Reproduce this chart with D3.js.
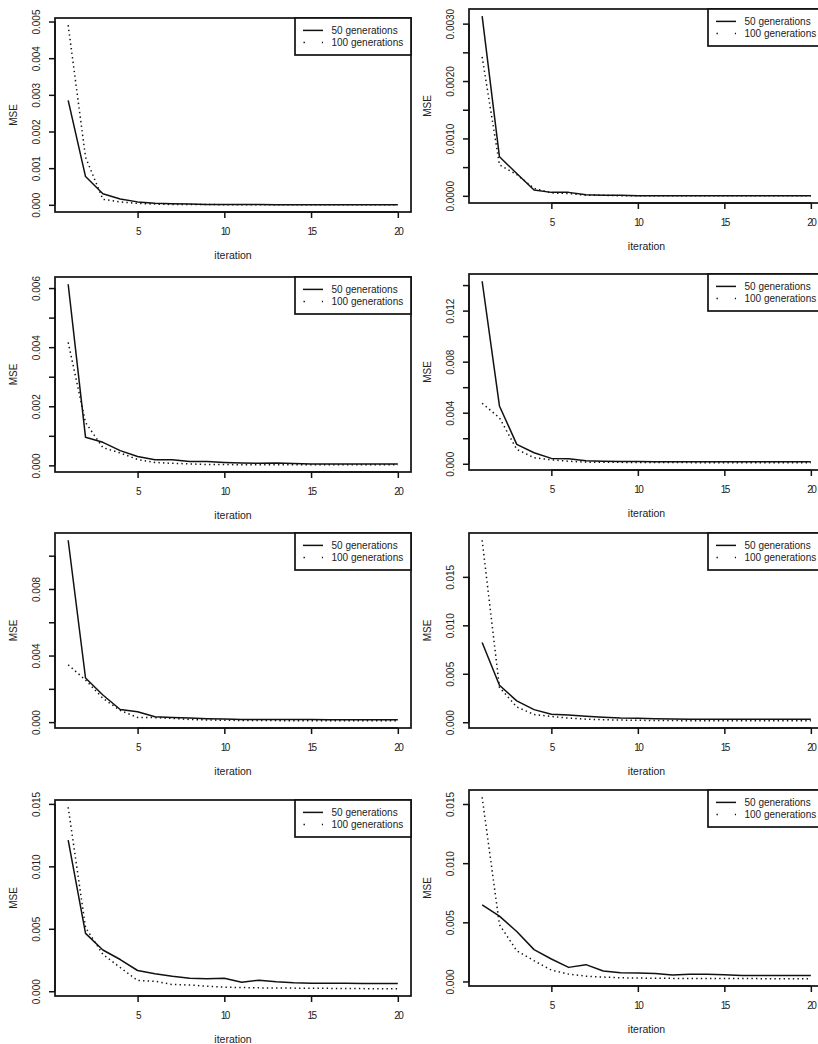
<!DOCTYPE html>
<html>
<head>
<meta charset="utf-8">
<script src="https://cdn.jsdelivr.net/npm/d3@7"></script>
<style>
  html, body { margin: 0; padding: 0; background: #fff; }
  svg { display: block; }
  text { font-family: "Liberation Sans", Arial, Helvetica, sans-serif; fill: #111; }
</style>
</head>
<body>
<svg id="chart" width="818" height="1044"></svg>
<script>
// ---------------- data ----------------
const iterations = [1,2,3,4,5,6,7,8,9,10,11,12,13,14,15,16,17,18,19,20];
const seriesNames = ["50 generations", "100 generations"];
const xTicks = [5, 10, 15, 20];

const p1_gen50  = [0.00285,0.00077,0.00030,0.00016,0.00008,0.00004,0.00003,0.00002,0.00001,0.00001,0.00001,0.00001,0,0,0,0,0,0,0,0];
const p1_gen100 = [0.00490,0.00130,0.00015,0.00008,0.00004,0.00002,0.00001,0.00001,0.00001,0,0,0,0,0,0,0,0,0,0,0];
const p1_yTicks  = [0,0.001,0.002,0.003,0.004,0.005];
const p1_yLabels = ["0.000","0.001","0.002","0.003","0.004","0.005"];

const p2_gen50  = [0.00313,0.00068,0.00039,0.00010,0.00006,0.00006,0.00002,0.00001,0.00001,0,0,0,0,0,0,0,0,0,0,0];
const p2_gen100 = [0.00242,0.00054,0.00037,0.00013,0.00005,0.00004,0.00001,0.00001,0,0,0,0,0,0,0,0,0,0,0,0];
const p2_yTicks  = [0,0.0005,0.001,0.0015,0.002,0.0025,0.003];
const p2_yLabels = ["0.0000","","0.0010","","0.0020","","0.0030"];

const p3_gen50  = [0.00613,0.00095,0.00078,0.00050,0.00030,0.00019,0.00019,0.00013,0.00013,0.00010,0.00008,0.00007,0.00008,0.00006,0.00005,0.00005,0.00005,0.00005,0.00005,0.00005];
const p3_gen100 = [0.00416,0.00145,0.00060,0.00042,0.00020,0.00010,0.00007,0.00005,0.00003,0.00003,0.00002,0.00002,0.00002,0.00002,0.00002,0.00002,0.00002,0.00002,0.00002,0.00002];
const p3_yTicks  = [0,0.001,0.002,0.003,0.004,0.005,0.006];
const p3_yLabels = ["0.000","","0.002","","0.004","","0.006"];

const p4_gen50  = [0.01430,0.00453,0.00152,0.00086,0.00042,0.00039,0.00024,0.00020,0.00018,0.00017,0.00016,0.00016,0.00016,0.00016,0.00016,0.00016,0.00016,0.00016,0.00016,0.00016];
const p4_gen100 = [0.00474,0.00360,0.00113,0.00047,0.00031,0.00020,0.00013,0.00012,0.00011,0.00010,0.00010,0.00009,0.00009,0.00008,0.00008,0.00008,0.00008,0.00008,0.00008,0.00008];
const p4_yTicks  = [0,0.002,0.004,0.006,0.008,0.010,0.012,0.014];
const p4_yLabels = ["0.000","","0.004","","0.008","","0.012",""];

const p5_gen50  = [0.01093,0.00265,0.00163,0.00076,0.00062,0.00032,0.00028,0.00024,0.00020,0.00018,0.00016,0.00015,0.00015,0.00015,0.00015,0.00014,0.00014,0.00014,0.00014,0.00014];
const p5_gen100 = [0.00344,0.00253,0.00143,0.00070,0.00028,0.00027,0.00022,0.00016,0.00013,0.00011,0.00010,0.00009,0.00009,0.00008,0.00008,0.00008,0.00008,0.00008,0.00008,0.00008];
const p5_yTicks  = [0,0.002,0.004,0.006,0.008,0.010];
const p5_yLabels = ["0.000","","0.004","","0.008",""];

const p6_gen50  = [0.00822,0.00382,0.00220,0.00130,0.00083,0.00075,0.00062,0.00052,0.00043,0.00040,0.00036,0.00033,0.00032,0.00031,0.00030,0.00030,0.00030,0.00030,0.00030,0.00030];
const p6_gen100 = [0.01878,0.00360,0.00158,0.00080,0.00060,0.00042,0.00032,0.00026,0.00022,0.00020,0.00018,0.00017,0.00016,0.00016,0.00015,0.00015,0.00015,0.00015,0.00015,0.00015];
const p6_yTicks  = [0,0.005,0.010,0.015];
const p6_yLabels = ["0.000","0.005","0.010","0.015"];

const p7_gen50  = [0.01210,0.00463,0.00330,0.00254,0.00166,0.00140,0.00120,0.00104,0.00100,0.00104,0.00072,0.00088,0.00075,0.00067,0.00064,0.00063,0.00063,0.00062,0.00062,0.00062];
const p7_gen100 = [0.01473,0.00510,0.00295,0.00190,0.00086,0.00080,0.00054,0.00050,0.00040,0.00032,0.00030,0.00027,0.00026,0.00025,0.00024,0.00023,0.00022,0.00021,0.00020,0.00020];
const p7_yTicks  = [0,0.005,0.010,0.015];
const p7_yLabels = ["0.000","0.005","0.010","0.015"];

const p8_gen50  = [0.00648,0.00552,0.00422,0.00269,0.00190,0.00119,0.00142,0.00088,0.00074,0.00071,0.00068,0.00054,0.00060,0.00060,0.00057,0.00050,0.00050,0.00050,0.00050,0.00050];
const p8_gen100 = [0.01557,0.00480,0.00260,0.00175,0.00096,0.00062,0.00045,0.00037,0.00031,0.00029,0.00027,0.00026,0.00025,0.00025,0.00024,0.00024,0.00024,0.00023,0.00023,0.00023];
const p8_yTicks  = [0,0.005,0.010,0.015];
const p8_yLabels = ["0.000","0.005","0.010","0.015"];

// ---------------- layout (pixels) ----------------
const panelBoxes = [
  {x: 55,  y: 18,  w: 356, h: 194},
  {x: 469, y: 9,   w: 355, h: 194},
  {x: 55,  y: 277, w: 356, h: 195},
  {x: 469, y: 274, w: 355, h: 196},
  {x: 55,  y: 533, w: 356, h: 195},
  {x: 469, y: 533, w: 355, h: 195},
  {x: 55,  y: 800, w: 356, h: 196},
  {x: 469, y: 790, w: 355, h: 196}
];

const panels = [
  {s50: p1_gen50, s100: p1_gen100, ticks: p1_yTicks, labels: p1_yLabels},
  {s50: p2_gen50, s100: p2_gen100, ticks: p2_yTicks, labels: p2_yLabels},
  {s50: p3_gen50, s100: p3_gen100, ticks: p3_yTicks, labels: p3_yLabels},
  {s50: p4_gen50, s100: p4_gen100, ticks: p4_yTicks, labels: p4_yLabels},
  {s50: p5_gen50, s100: p5_gen100, ticks: p5_yTicks, labels: p5_yLabels},
  {s50: p6_gen50, s100: p6_gen100, ticks: p6_yTicks, labels: p6_yLabels},
  {s50: p7_gen50, s100: p7_gen100, ticks: p7_yTicks, labels: p7_yLabels},
  {s50: p8_gen50, s100: p8_gen100, ticks: p8_yTicks, labels: p8_yLabels}
];

const svg = d3.select("#chart");
const INK = "#111";

// R-style 4% padded range
function padded(lo, hi) {
  const r = hi - lo;
  return [lo - 0.04 * r, hi + 0.04 * r];
}

panels.forEach((p, i) => {
  const b = panelBoxes[i];
  const g = svg.append("g");

  const x = d3.scaleLinear()
    .domain(padded(d3.min(iterations), d3.max(iterations)))
    .range([b.x, b.x + b.w]);
  const allVals = p.s50.concat(p.s100);
  const y = d3.scaleLinear()
    .domain(padded(d3.min(allVals), d3.max(allVals)))
    .range([b.y + b.h, b.y]);

  // series lines
  const line = d3.line().x((d, k) => x(iterations[k])).y(d => y(d));
  g.append("path").datum(p.s100)
    .attr("d", line).attr("fill", "none").attr("stroke", INK)
    .attr("stroke-width", 1.5).attr("stroke-dasharray", "1.4 3.2");
  g.append("path").datum(p.s50)
    .attr("d", line).attr("fill", "none").attr("stroke", INK)
    .attr("stroke-width", 1.5).attr("stroke-linejoin", "round");

  // y axis
  const yAxis = d3.axisLeft(y).tickValues(p.ticks).tickSize(6).tickSizeOuter(0)
    .tickFormat((d, k) => p.labels[k]);
  const ya = g.append("g").attr("transform", `translate(${b.x},0)`).call(yAxis);
  ya.select(".domain").attr("stroke", INK).attr("stroke-width", 1.5)
    .attr("d", `M0,${y(p.ticks[0])}V${y(p.ticks[p.ticks.length - 1])}`);
  ya.selectAll(".tick line").attr("stroke", INK).attr("stroke-width", 1.5);
  ya.selectAll(".tick text")
    .attr("transform", "rotate(-90)")
    .attr("x", 0).attr("y", -18.5).attr("dy", "0.35em")
    .attr("text-anchor", "middle")
    .style("font-size", "10px").style("fill", "#222");

  // x axis
  const xAxis = d3.axisBottom(x).tickValues(xTicks).tickSize(6).tickSizeOuter(0)
    .tickFormat(d3.format("d"));
  const xa = g.append("g").attr("transform", `translate(0,${b.y + b.h})`).call(xAxis);
  xa.select(".domain").attr("stroke", INK).attr("stroke-width", 1.5)
    .attr("d", `M${x(xTicks[0])},0H${x(xTicks[xTicks.length - 1])}`);
  xa.selectAll(".tick line").attr("stroke", INK).attr("stroke-width", 1.5);
  xa.selectAll(".tick text")
    .attr("y", 19).attr("dy", "0.35em")
    .style("font-size", "10px").style("letter-spacing", "-1.5px").style("fill", "#222");

  // box
  g.append("rect")
    .attr("x", b.x).attr("y", b.y).attr("width", b.w).attr("height", b.h)
    .attr("fill", "none").attr("stroke", INK).attr("stroke-width", 1.7);

  // axis titles
  g.append("text")
    .attr("x", b.x + b.w / 2).attr("y", b.y + b.h + 43).attr("dy", "0.35em")
    .attr("text-anchor", "middle").style("font-size", "10.5px").style("fill", "#222")
    .text("iteration");
  g.append("text")
    .attr("transform", `translate(${b.x - 42},${b.y + b.h / 2}) rotate(-90)`)
    .attr("dy", "0.35em").attr("text-anchor", "middle")
    .style("font-size", "10px").style("fill", "#222")
    .text("MSE");

  // legend (top-right)
  const lw = 116, lh = 37;
  const lx = b.x + b.w - lw, ly = b.y;
  const lg = g.append("g");
  lg.append("rect").attr("x", lx).attr("y", ly).attr("width", lw).attr("height", lh)
    .attr("fill", "#fff").attr("stroke", INK).attr("stroke-width", 1.7);
  lg.append("line").attr("x1", lx + 8).attr("x2", lx + 28)
    .attr("y1", ly + 12.4).attr("y2", ly + 12.4)
    .attr("stroke", INK).attr("stroke-width", 1.5);
  lg.append("line").attr("x1", lx + 8.5).attr("x2", lx + 28)
    .attr("y1", ly + 24.4).attr("y2", ly + 24.4)
    .attr("stroke", INK).attr("stroke-width", 1.5).attr("stroke-dasharray", "1.4 17");
  seriesNames.forEach((name, k) => {
    lg.append("text").attr("x", lx + 36.5).attr("y", ly + 12.4 + k * 12).attr("dy", "0.35em")
      .style("font-size", "10px").style("fill", "#222").text(name);
  });
});
</script>
</body>
</html>
